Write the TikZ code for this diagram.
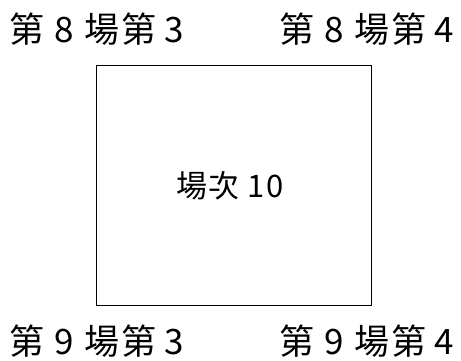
\documentclass[tikz,border=0pt]{standalone}
\usepackage{fontspec}
\setmainfont{Noto Sans CJK TC}
\newcommand\fw[1]{\makebox[37.5pt]{#1}}
\newcommand\lw[1]{\makebox[33pt]{#1}}
\newcommand\cw[2]{\makebox[#1pt]{#2}}
\begin{document}
\begin{tikzpicture}[x=1pt,y=-1pt,
  lbl/.style={inner sep=0pt,anchor=west,font=\fontsize{35}{37}\selectfont},
  mid/.style={inner sep=0pt,anchor=west,font=\fontsize{31}{33}\selectfont}]
\useasboundingbox (0,0) rectangle (461,361);
\node[draw,line width=1pt,minimum width=275pt,minimum height=239pt,inner sep=0pt] (box) at (233.5,185.5) {};
\node[mid] (c) at (175.5,185.5) {\cw{32.5}{場}\cw{32.5}{次}\cw{6}{}\cw{18}{1}\cw{20}{0}};
\node[lbl] (tl) at (8,29) {\fw{第}\fw{8}\fw{場}\fw{第}\lw{3}};
\node[lbl] (tr) at (278,29) {\fw{第}\fw{8}\fw{場}\fw{第}\lw{4}};
\node[lbl] (bl) at (8,341) {\fw{第}\fw{9}\fw{場}\fw{第}\lw{3}};
\node[lbl] (br) at (278,341) {\fw{第}\fw{9}\fw{場}\fw{第}\lw{4}};
\end{tikzpicture}
\end{document}
